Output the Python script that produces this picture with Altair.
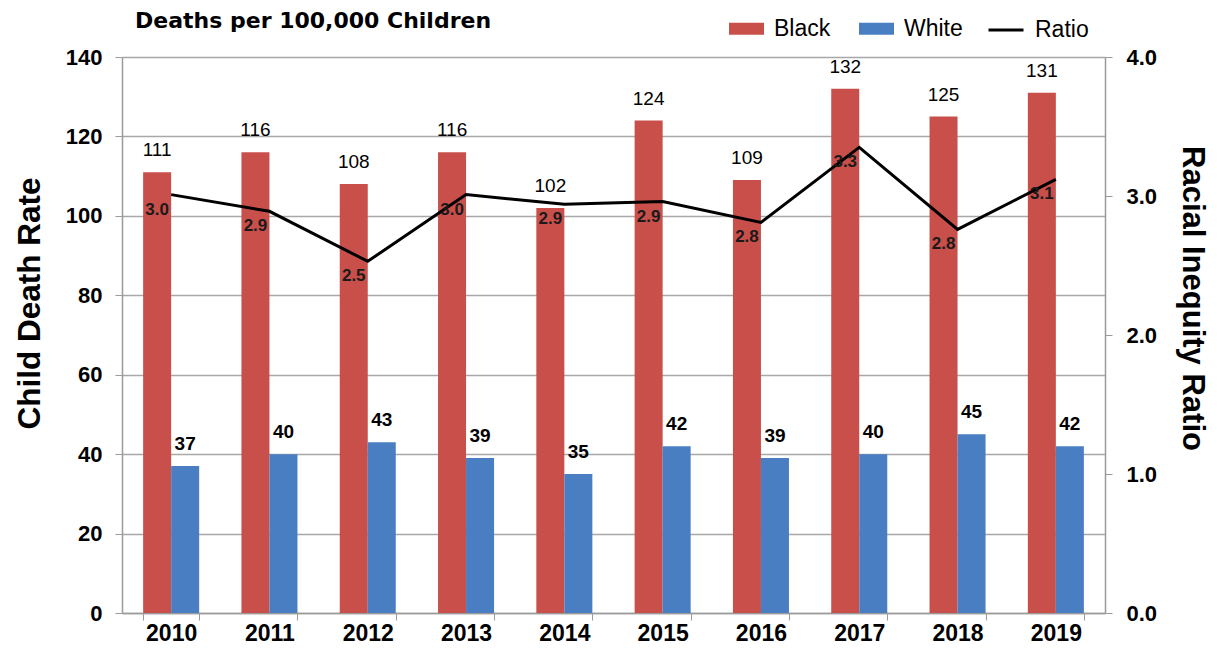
import altair as alt
import pandas as pd

years = ["2010", "2011", "2012", "2013", "2014", "2015", "2016", "2017", "2018", "2019"]
black = [111, 116, 108, 116, 102, 124, 109, 132, 125, 131]
white = [37, 40, 43, 39, 35, 42, 39, 40, 45, 42]
ratio = [3.01, 2.89, 2.53, 3.01, 2.94, 2.96, 2.81, 3.35, 2.76, 3.12]
ratio_labels = ["3.0", "2.9", "2.5", "3.0", "2.9", "2.9", "2.8", "3.3", "2.8", "3.1"]

RED = "#C94F4B"
BLUE = "#4A7EC3"
GRAY = "#9a9a9a"
FONT = "Liberation Sans"

bars_df = pd.DataFrame(
    [{"year": y, "group": "Black", "value": v} for y, v in zip(years, black)]
    + [{"year": y, "group": "White", "value": v} for y, v in zip(years, white)]
)
ratio_df = pd.DataFrame({"year": years, "ratio": ratio, "label": ratio_labels, "series": "Ratio"})

x_enc = alt.X(
    "year:N",
    scale=alt.Scale(paddingInner=0.43, paddingOuter=0.215),
    axis=alt.Axis(
        title=None, labelAngle=0, tickBand="extent", tickSize=7, tickColor=GRAY,
        domainColor=GRAY, domainWidth=1.5, labelFont=FONT, labelFontSize=23,
        labelFontWeight="bold", labelColor="black", labelPadding=2, grid=False,
    ),
)
x_off = alt.XOffset("group:N", scale=alt.Scale(domain=["Black", "White"]))

y_left = alt.Y(
    "value:Q",
    scale=alt.Scale(domain=[0, 140]),
    axis=alt.Axis(
        values=[0, 20, 40, 60, 80, 100, 120, 140], title="Child Death Rate",
        titleFont=FONT, titleFontSize=31.5, titleFontWeight="bold", titleColor="black",
        titleAngle=-90, titleX=-92, titleY=246, titleAlign="center", titleBaseline="middle",
        labelFont=FONT, labelFontSize=22, labelFontWeight="bold", labelColor="black",
        labelPadding=13, tickSize=7, tickColor=GRAY, domainColor=GRAY, domainWidth=1.5,
        grid=True, gridColor="#a8a8a8", gridWidth=1.5,
    ),
)

bars = alt.Chart(bars_df).mark_bar().encode(
    x=x_enc,
    xOffset=x_off,
    y=y_left,
    color=alt.Color(
        "group:N",
        scale=alt.Scale(domain=["Black", "White"], range=[RED, BLUE]),
        legend=alt.Legend(
            orient="none", legendX=607, legendY=-46, direction="horizontal", title=None,
            symbolType="M-1,-0.34L1,-0.34L1,0.34L-1,0.34Z", symbolSize=1225,
            symbolStrokeWidth=0, labelFont=FONT, labelFontSize=23, labelColor="black",
            labelOffset=10, columnPadding=28, padding=0,
        ),
    ),
)

black_text = alt.Chart(bars_df).transform_filter(alt.datum.group == "Black").mark_text(
    font=FONT, fontSize=19, color="black", dy=-22, baseline="middle"
).encode(
    x=alt.X("year:N"),
    xOffset=x_off,
    y=alt.Y("value:Q"),
    text=alt.Text("value:Q"),
)

white_text = alt.Chart(bars_df).transform_filter(alt.datum.group == "White").mark_text(
    font=FONT, fontSize=19, fontWeight="bold", color="black", dy=-22, baseline="middle"
).encode(
    x=alt.X("year:N"),
    xOffset=x_off,
    y=alt.Y("value:Q"),
    text=alt.Text("value:Q"),
)

y_right = alt.Y(
    "ratio:Q",
    scale=alt.Scale(domain=[0, 4]),
    axis=alt.Axis(
        orient="right", values=[0, 1, 2, 3, 4], format=".1f", title="Racial Inequity Ratio",
        titleFont=FONT, titleFontSize=31, titleFontWeight="bold", titleColor="black",
        titleAngle=90, titleX=86, titleY=241, titleAlign="center", titleBaseline="middle",
        labelFont=FONT, labelFontSize=22, labelFontWeight="bold", labelColor="black",
        labelPadding=14, tickSize=7, tickColor=GRAY, domainColor=GRAY, domainWidth=1.5,
        grid=False,
    ),
)

line = alt.Chart(ratio_df).mark_line(strokeWidth=3).encode(
    x=alt.X("year:N"),
    y=y_right,
    stroke=alt.Stroke(
        "series:N",
        scale=alt.Scale(domain=["Ratio"], range=["black"]),
        legend=alt.Legend(
            orient="none", legendX=865, legendY=-46, direction="horizontal", title=None,
            symbolType="stroke", symbolSize=1225, symbolStrokeWidth=3,
            labelFont=FONT, labelFontSize=23, labelColor="black", labelOffset=10, padding=0,
        ),
    ),
)

ratio_text = alt.Chart(ratio_df).mark_text(
    font=FONT, fontSize=17, fontWeight="bold", color="#1a1a1a", dx=-14, dy=15, baseline="middle"
).encode(
    x=alt.X("year:N"),
    y=alt.Y("ratio:Q"),
    text="label:N",
)

chart = alt.layer(
    alt.layer(bars, black_text, white_text),
    alt.layer(line, ratio_text),
).resolve_scale(y="independent").properties(
    width=983,
    height=556,
    background="white",
    autosize=alt.AutoSizeParams(type="none"),
    padding={"left": 114, "top": 49, "right": 104, "bottom": 32},
    title=alt.TitleParams(
        "Deaths per 100,000 Children", anchor="start", frame="group", dx=13, offset=-22,
        font="DejaVu Sans", fontSize=22, fontWeight="bold", color="black",
    ),
).configure_view(stroke=None)

chart.save("out.html", embed_options={"renderer": "svg", "actions": False})
